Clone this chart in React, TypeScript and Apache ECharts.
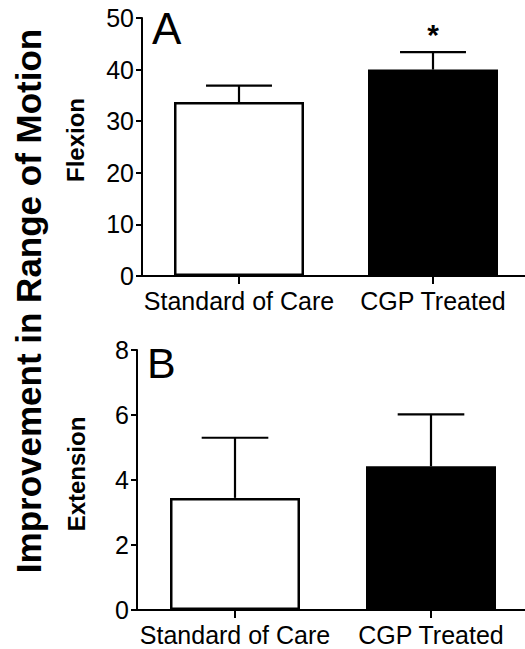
import React, { useEffect, useRef } from "react";
import * as echarts from "echarts";

const categories = ["Standard of Care", "CGP Treated"];
const barColors = ["#ffffff", "#000000"];
const flexionMeans = [33.7, 40.0];
const flexionErrors = [3.2, 3.4];
const flexionMarks = ["", "*"];
const extensionMeans = [3.45, 4.42];
const extensionErrors = [1.85, 1.6];
const extensionMarks = ["", ""];
const flexionAxis = { min: 0, max: 50, interval: 10 };
const extensionAxis = { min: 0, max: 8, interval: 2 };
const panelLetters = ["A", "B"];
const panelTitles = ["Flexion", "Extension"];
const mainTitle = "Improvement in Range of Motion";

const FONT = "'Liberation Sans', Arial, Helvetica, sans-serif";

function errorRender(marks: string[]) {
  return (params: any, api: any) => {
    const x = api.value(0);
    const mean = api.value(1);
    const err = api.value(2);
    const base = api.coord([x, mean]);
    const top = api.coord([x, mean + err]);
    const band = api.size([1, 0])[0];
    const half = band * 0.17;
    const children: any[] = [
      {
        type: "line",
        shape: { x1: base[0], y1: base[1], x2: top[0], y2: top[1] },
        style: { stroke: "#000", lineWidth: 2.2 },
      },
      {
        type: "line",
        shape: { x1: top[0] - half, y1: top[1], x2: top[0] + half, y2: top[1] },
        style: { stroke: "#000", lineWidth: 2.2 },
      },
    ];
    const m = marks[params.dataIndex];
    if (m) {
      children.push({
        type: "text",
        x: top[0],
        y: top[1] - 3,
        style: {
          text: m,
          fill: "#000",
          font: `bold 30px ${FONT}`,
          align: "center",
          verticalAlign: "bottom",
        },
      });
    }
    return { type: "group", children };
  };
}

export default function App() {
  const ref = useRef<HTMLDivElement>(null);
  useEffect(() => {
    if (!ref.current) return;
    const chart = echarts.init(ref.current, null, { renderer: "svg" });
    const axisLine = { show: true, lineStyle: { color: "#000", width: 2 } };
    const yAxisCommon = (a: any) => ({
      type: "value",
      min: a.min,
      max: a.max,
      interval: a.interval,
      axisLine,
      axisTick: { show: true, length: 6, lineStyle: { color: "#000", width: 2 } },
      axisLabel: { color: "#000", fontSize: 25, fontFamily: FONT, margin: 8 },
      splitLine: { show: false },
    });
    const xAxisCommon = {
      type: "category",
      data: categories,
      axisLine,
      axisTick: { show: true, alignWithLabel: true, length: 8, lineStyle: { color: "#000", width: 2 } },
      axisLabel: { color: "#000", fontSize: 25, fontFamily: FONT, margin: 12, interval: 0 },
    };
    const barData = (vals: number[]) =>
      vals.map((v, i) => ({ value: v, itemStyle: { color: barColors[i] } }));
    const errData = (m: number[], e: number[]) => m.map((v, i) => [i, v, e[i]]);

    chart.setOption({
      animation: false,
      backgroundColor: "#ffffff",
      grid: [
        { left: 142, top: 18, width: 388, height: 258 },
        { left: 137, top: 350, width: 392, height: 260 },
      ],
      xAxis: [
        { ...xAxisCommon, gridIndex: 0 },
        { ...xAxisCommon, gridIndex: 1 },
      ],
      yAxis: [
        { ...yAxisCommon(flexionAxis), gridIndex: 0 },
        { ...yAxisCommon(extensionAxis), gridIndex: 1 },
      ],
      series: [
        {
          type: "bar",
          xAxisIndex: 0,
          yAxisIndex: 0,
          barWidth: 130,
          data: barData(flexionMeans),
          itemStyle: { borderColor: "#000", borderWidth: 2.5 },
          z: 2,
        },
        {
          type: "custom",
          xAxisIndex: 0,
          yAxisIndex: 0,
          renderItem: errorRender(flexionMarks),
          data: errData(flexionMeans, flexionErrors),
          encode: { x: 0, y: 1 },
          z: 3,
        },
        {
          type: "bar",
          xAxisIndex: 1,
          yAxisIndex: 1,
          barWidth: 130,
          data: barData(extensionMeans),
          itemStyle: { borderColor: "#000", borderWidth: 2.5 },
          z: 2,
        },
        {
          type: "custom",
          xAxisIndex: 1,
          yAxisIndex: 1,
          renderItem: errorRender(extensionMarks),
          data: errData(extensionMeans, extensionErrors),
          encode: { x: 0, y: 1 },
          z: 3,
        },
      ],
      graphic: [
        {
          type: "text",
          x: 28,
          y: 301,
          rotation: Math.PI / 2,
          style: {
            text: mainTitle,
            fill: "#000",
            font: `bold 35px ${FONT}`,
            align: "center",
            verticalAlign: "middle",
          },
        },
        {
          type: "text",
          x: 75,
          y: 140,
          rotation: Math.PI / 2,
          style: {
            text: panelTitles[0],
            fill: "#000",
            font: `bold 24px ${FONT}`,
            align: "center",
            verticalAlign: "middle",
          },
        },
        {
          type: "text",
          x: 76,
          y: 474,
          rotation: Math.PI / 2,
          style: {
            text: panelTitles[1],
            fill: "#000",
            font: `bold 24px ${FONT}`,
            align: "center",
            verticalAlign: "middle",
          },
        },
        {
          type: "text",
          x: 152,
          y: 28,
          style: {
            text: panelLetters[0],
            fill: "#000",
            font: `44px ${FONT}`,
            align: "left",
            verticalAlign: "middle",
          },
        },
        {
          type: "text",
          x: 147,
          y: 363,
          style: {
            text: panelLetters[1],
            fill: "#000",
            font: `43px ${FONT}`,
            align: "left",
            verticalAlign: "middle",
          },
        },
      ],
    });
    return () => chart.dispose();
  }, []);

  return (
    <div
      style={{
        position: "fixed",
        left: 0,
        top: 0,
        width: 525,
        height: 649,
        overflow: "hidden",
        background: "#fff",
      }}
    >
      <div ref={ref} style={{ width: 540, height: 649 }} />
    </div>
  );
}
